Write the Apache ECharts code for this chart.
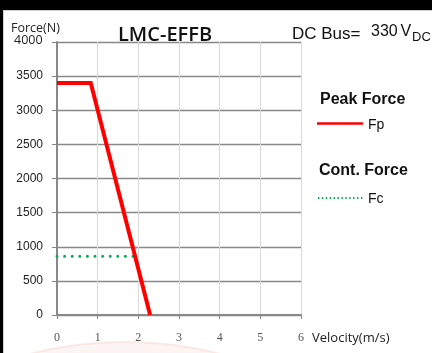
<!DOCTYPE html>
<html><head><meta charset="utf-8">
<script src="https://cdn.jsdelivr.net/npm/echarts@6/dist/echarts.min.js"></script>
<style>html,body{margin:0;padding:0;background:#fff}#c{width:432px;height:353px}</style>
</head><body><div id="c"></div>
<script>
const xTicks = [0, 1, 2, 3, 4, 5, 6];
const yTicks = [0, 500, 1000, 1500, 2000, 2500, 3000, 3500, 4000];
const peakVelocity = [0, 0.83, 2.29];
const peakForce = [3400, 3400, 0];
const contVelocity = [0, 1.92];
const contForce = [860, 860];
const yMax = yTicks[yTicks.length - 1];

const chart = echarts.init(document.getElementById('c'), null, {renderer: 'canvas'});
const option = {
  backgroundColor: '#ffffff',
  animation: false,
  grid: {left: 57, right: 131, top: 42, bottom: 38},
  xAxis: {
    type: 'value', min: xTicks[0], max: xTicks[xTicks.length - 1], interval: 1,
    axisLine: {show: true, onZero: false, lineStyle: {color: '#888', width: 2}},
    axisTick: {show: true, length: 4, lineStyle: {color: '#888', width: 1}},
    axisLabel: {margin: 17, color: '#555', fontFamily: 'Liberation Serif', fontSize: 12, formatter: v => String(v)},
    splitLine: {show: true, lineStyle: {color: '#d9d9d9', width: 1}}
  },
  yAxis: {
    type: 'value', min: yTicks[0], max: yMax, interval: 500,
    axisLine: {show: true, lineStyle: {color: '#888', width: 2}},
    axisTick: {show: true, length: 5, lineStyle: {color: '#888', width: 1}},
    axisLabel: {margin: 14, color: '#222', fontFamily: 'Liberation Sans', fontSize: 12,
      formatter: v => (v === yMax ? '' : String(v))},
    splitLine: {show: true, lineStyle: {color: '#888', width: 1.4}}
  },
  series: [
    {
      name: 'Fp', type: 'line', symbol: 'none',
      data: peakVelocity.map((v, i) => [v, peakForce[i]]),
      lineStyle: {color: '#ff0000', width: 4, join: 'miter'},
      z: 3
    },
    {
      name: 'Fc', type: 'line', symbol: 'none',
      data: contVelocity.map((v, i) => [v, contForce[i]]),
      lineStyle: {color: '#00b050', width: 3, type: [0, 7.6], cap: 'round'},
      z: 2
    }
  ],
  graphic: [
    {type: 'ellipse', silent: true, z: -10, shape: {cx: 125, cy: 432, rx: 190, ry: 90}, style: {fill: 'rgba(250,230,224,0.4)', stroke: 'rgba(240,195,185,0.3)', lineWidth: 2}},
    {type: 'rect', silent: true, z: 100, shape: {x: 0, y: 0, width: 432, height: 10}, style: {fill: '#000'}},
    {type: 'rect', silent: true, z: 100, shape: {x: 0, y: 0, width: 3, height: 353}, style: {fill: '#000'}},
    {type: 'line', silent: true, z: 100, shape: {x1: 3, y1: 10.5, x2: 432, y2: 10.5}, style: {stroke: '#cfcfcf', lineWidth: 1}},
    {type: 'line', silent: true, z: 100, shape: {x1: 3.5, y1: 10, x2: 3.5, y2: 353}, style: {stroke: '#cfcfcf', lineWidth: 1}},
    {type: 'text', z: 50, x: 11, y: 28, style: {text: 'Force(N)', font: '12.5px "Open Sans"', fill: '#222', textVerticalAlign: 'middle'}},
    {type: 'text', z: 50, x: 14, y: 40.5, style: {text: String(yMax), font: '12.5px "Open Sans"', fill: '#222', textVerticalAlign: 'middle'}},
    {type: 'text', z: 50, x: 118, y: 35, style: {text: 'LMC-EFFB', font: '600 20px "Open Sans"', fill: '#111', textVerticalAlign: 'middle'}},
    {type: 'text', z: 50, x: 292, y: 34.5, style: {text: 'DC Bus=', font: '17px "Liberation Sans"', fill: '#111', textVerticalAlign: 'middle'}},
    {type: 'text', z: 50, x: 371, y: 31.5, style: {text: '330', font: '16px "Liberation Sans"', fill: '#111', textVerticalAlign: 'middle'}},
    {type: 'text', z: 50, x: 400.5, y: 32, style: {text: 'V', font: '16px "Liberation Sans"', fill: '#111', textVerticalAlign: 'middle'}},
    {type: 'text', z: 50, x: 412, y: 37.5, style: {text: 'DC', font: '13px "Liberation Sans"', fill: '#111', textVerticalAlign: 'middle'}},
    {type: 'text', z: 50, x: 312, y: 338, style: {text: 'Velocity(m/s)', font: '13px "Open Sans"', fill: '#222', textVerticalAlign: 'middle'}},
    {type: 'text', z: 50, x: 320, y: 99.5, style: {text: 'Peak Force', font: 'bold 16px "Liberation Sans"', fill: '#111', textVerticalAlign: 'middle'}},
    {type: 'line', z: 50, shape: {x1: 317, y1: 123.5, x2: 363, y2: 123.5}, style: {stroke: '#ff0000', lineWidth: 2.7}},
    {type: 'text', z: 50, x: 368, y: 125, style: {text: 'Fp', font: '14px "Liberation Sans"', fill: '#111', textVerticalAlign: 'middle'}},
    {type: 'text', z: 50, x: 319, y: 171, style: {text: 'Cont. Force', font: 'bold 16px "Liberation Sans"', fill: '#111', textVerticalAlign: 'middle'}},
    {type: 'line', z: 50, shape: {x1: 318, y1: 198, x2: 363, y2: 198}, style: {stroke: '#00b050', lineWidth: 1.8, lineDash: [1.4, 2.5]}},
    {type: 'text', z: 50, x: 368, y: 199, style: {text: 'Fc', font: '14px "Liberation Sans"', fill: '#111', textVerticalAlign: 'middle'}}
  ]
};
chart.setOption(option);
</script>
</body></html>
